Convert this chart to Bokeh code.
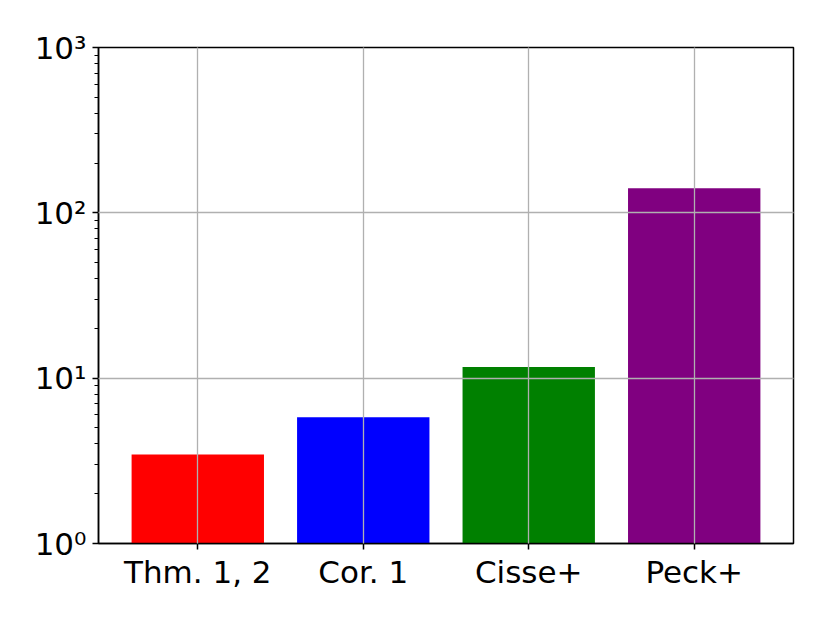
from bokeh.plotting import figure
from bokeh.models import FixedTicker, Range1d
from bokeh.embed import file_html
from bokeh.resources import INLINE

categories = ["Thm. 1, 2", "Cor. 1", "Cisse+", "Peck+"]
values = [3.45, 5.8, 11.7, 141.0]
colors = ["#ff0000", "#0000ff", "#008000", "#800080"]
y_major = [1, 10, 100, 1000]
y_labels = ["10\u2070", "10\u00b9", "10\u00b2", "10\u00b3"]

xs = list(range(len(categories)))
y_minor = [d * m for d in y_major[:-1] for m in range(2, 10)]

p = figure(width=814, height=605, output_backend="svg", toolbar_location=None,
           y_axis_type="log", x_range=Range1d(-0.6, 3.6), y_range=Range1d(1, 1000),
           min_border_left=98, min_border_right=21, min_border_top=47, min_border_bottom=62)

p.vbar(x=xs, top=values, bottom=1, width=0.8, fill_color=colors, line_color=None)

p.xaxis.ticker = FixedTicker(ticks=xs)
p.xaxis.major_label_overrides = {i: c for i, c in zip(xs, categories)}
p.yaxis.ticker = FixedTicker(ticks=y_major, minor_ticks=y_minor)
p.yaxis.major_label_overrides = {v: l for v, l in zip(y_major, y_labels)}

for ax in (p.xaxis[0], p.yaxis[0]):
    ax.major_label_text_font = "DejaVu Sans"
    ax.major_label_text_font_size = "31px"
    ax.major_label_text_color = "black"
    ax.axis_line_color = "black"
    ax.axis_line_width = 1.5
    ax.major_tick_line_color = "black"
    ax.major_tick_line_width = 1.5
    ax.major_tick_in = 0
    ax.major_tick_out = 6
    ax.minor_tick_line_color = "black"
    ax.minor_tick_line_width = 1.2
    ax.minor_tick_in = 0
    ax.minor_tick_out = 4
p.xaxis.major_label_standoff = 4
p.yaxis.major_label_standoff = 6
p.xaxis.minor_tick_line_color = None

p.outline_line_color = "black"
p.outline_line_width = 1.5
for g in (p.xgrid[0], p.ygrid[0]):
    g.grid_line_color = "#b0b0b0"
    g.grid_line_width = 1.3
    g.level = "overlay"
p.ygrid.minor_grid_line_color = None

open("out.html", "w").write(file_html(p, INLINE))
